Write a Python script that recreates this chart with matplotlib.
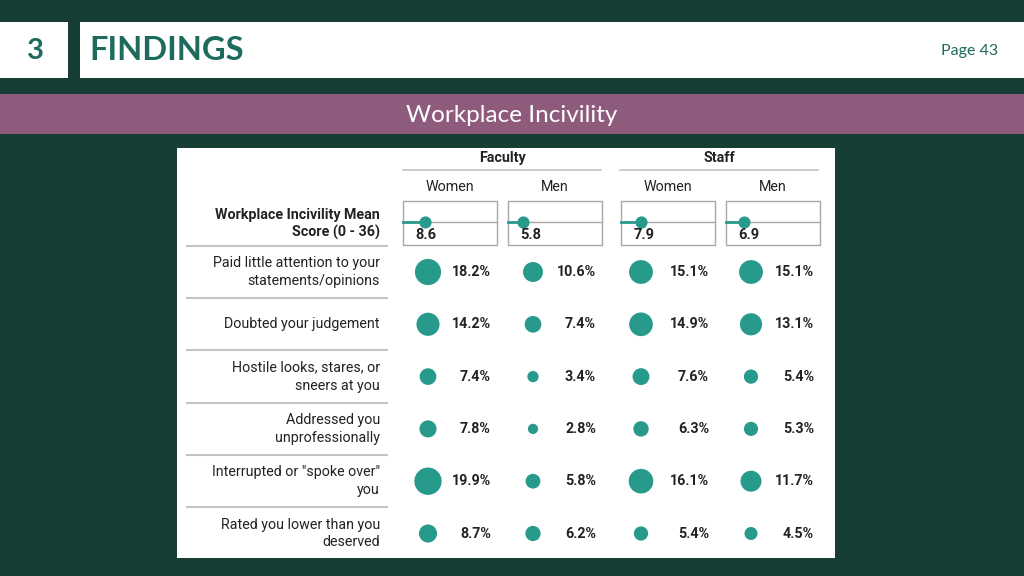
import numpy as np
import matplotlib as mpl
mpl.use('Agg')
import matplotlib.pyplot as plt
from matplotlib.patches import Rectangle

# ---- data ----
groups = ['Faculty', 'Staff']
subgroups = ['Women', 'Men', 'Women', 'Men']
mean_scores = [8.6, 5.8, 7.9, 6.9]
score_max = 36
items = ['Paid little attention to your\nstatements/opinions',
         'Doubted your judgement',
         'Hostile looks, stares, or\nsneers at you',
         'Addressed you\nunprofessionally',
         'Interrupted or "spoke over"\nyou',
         'Rated you lower than you\ndeserved']
faculty_women = [18.2, 14.2, 7.4, 7.8, 19.9, 8.7]
faculty_men = [10.6, 7.4, 3.4, 2.8, 5.8, 6.2]
staff_women = [15.1, 14.9, 7.6, 6.3, 16.1, 5.4]
staff_men = [15.1, 13.1, 5.4, 5.3, 11.7, 4.5]

# ---- style ----
bg = '#173e34'
purple = '#8f5b7d'
teal_dark = '#1d6b5d'
teal = '#289a8c'
txt = '#222222'
rule = '#c4c4c4'
fs = 10.3
plt.rcParams['font.family'] = ['Roboto', 'DejaVu Sans']

fig = plt.figure(figsize=(10.24, 5.76), dpi=100)
fig.patch.set_facecolor(bg)
ax = fig.add_axes([0, 0, 1, 1])
ax.set_xlim(0, 1024)
ax.set_ylim(576, 0)
ax.axis('off')

# header
ax.add_patch(Rectangle((0, 22), 68, 56, fc='white', ec='none'))
ax.add_patch(Rectangle((80, 22), 944, 56, fc='white', ec='none'))
ax.text(35, 51, '3', fontsize=21, fontweight='bold', color=teal_dark,
        ha='center', va='center', family='Lato')
ax.text(89, 51, 'FINDINGS', fontsize=23.5, fontweight='bold', color=teal_dark,
        ha='left', va='center', family='Lato')
ax.text(998, 51, 'Page 43', fontsize=11.5, color=teal_dark,
        ha='right', va='center', family='Lato')
ax.add_patch(Rectangle((0, 94), 1024, 40, fc=purple, ec='none'))
ax.text(512, 116, 'Workplace Incivility', fontsize=17.5, color='white',
        ha='center', va='center', family='Lato')

# panel
ax.add_patch(Rectangle((177, 148), 658, 410, fc='white', ec='none'))

col_x = [450, 555, 668, 773]
box_w = 94
for g, (x0, x1) in zip(groups, [(403, 601), (620, 818)]):
    ax.text((x0 + x1) / 2, 158, g, fontsize=fs, fontweight='bold', color=txt,
            ha='center', va='center')
    ax.plot([x0, x1], [170, 170], color=rule, lw=1.2)
for cx, s in zip(col_x, subgroups):
    ax.text(cx, 187, s, fontsize=fs, color=txt, ha='center', va='center')

# mean score row
ax.text(380, 224, 'Workplace Incivility Mean\nScore (0 - 36)', fontsize=fs,
        fontweight='bold', color=txt, ha='right', va='center', linespacing=1.3)
ax.plot([187, 387], [246, 246], color=rule, lw=1.5)
for cx, v in zip(col_x, mean_scores):
    bx = cx - box_w / 2 - 0.5
    ax.add_patch(Rectangle((bx, 201), box_w, 44, fc='none', ec='#a8a8a8', lw=1))
    ax.plot([bx, bx + box_w], [222, 222], color='#a8a8a8', lw=1)
    dx = bx + v / score_max * box_w
    ax.plot([bx, dx], [222, 222], color=teal, lw=2)
    ax.scatter([dx], [222], s=60, color=teal, zorder=3)
    ax.text(bx + 13, 235, f'{v:.1f}', fontsize=10.5, fontweight='bold', color=txt,
            ha='left', va='center')

# item rows
row_y = 272 + 52.3 * np.arange(len(items))
circ_x = [428, 533, 641, 751]
val_x = [491, 596, 709, 814]
cols = [faculty_women, faculty_men, staff_women, staff_men]
for i, label in enumerate(items):
    y = row_y[i]
    ax.text(380, y, label, fontsize=fs, color=txt, ha='right', va='center',
            linespacing=1.35)
    if i < len(items) - 1:
        ax.plot([187, 387], [y + 26, y + 26], color=rule, lw=1.5)
for c, vals in enumerate(cols):
    ax.scatter([circ_x[c]] * len(vals), row_y, s=np.array(vals) * 19.5,
               color=teal, edgecolors='none', zorder=3)
    for y, v in zip(row_y, vals):
        ax.text(val_x[c], y, f'{v:.1f}%', fontsize=fs, fontweight='bold',
                color=txt, ha='right', va='center')

fig.savefig('out.png', dpi=100, facecolor=bg)
